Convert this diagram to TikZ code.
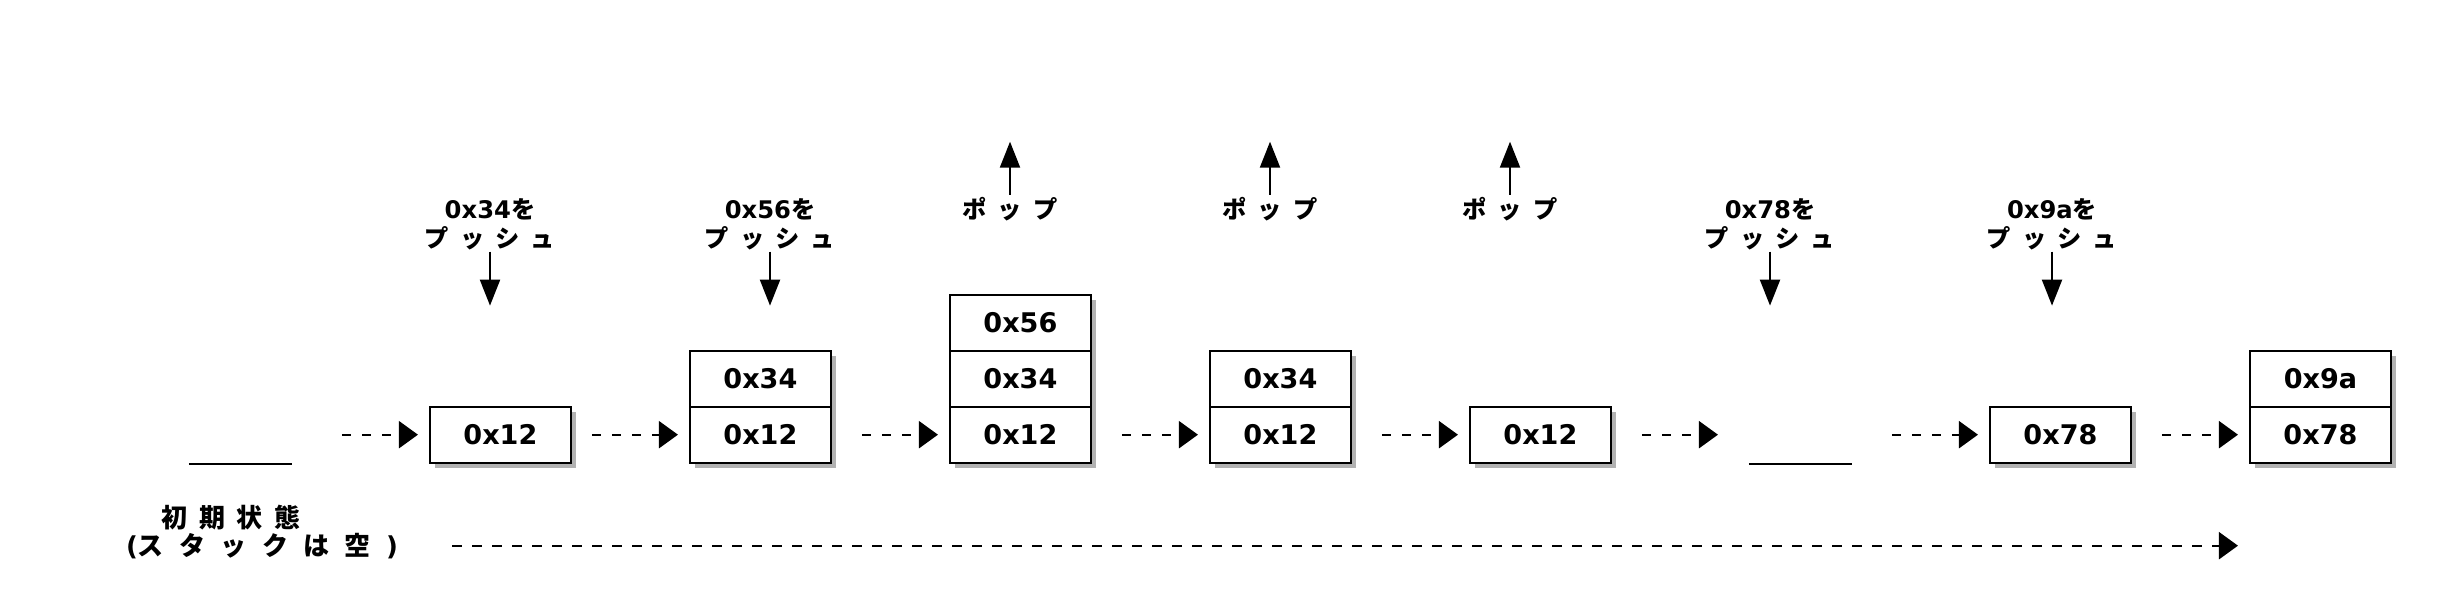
\documentclass[tikz,border=0pt]{standalone}
\usepackage{fontspec}
\setmainfont{DejaVu Sans}
\newfontfamily\jp{Noto Sans CJK JP}[WordSpace=2]
\newcommand{\gap}{\hspace{0.59em}}
\usetikzlibrary{arrows.meta,shadows}

\begin{document}
\begin{tikzpicture}[line width=0.6pt]
        %
        % `cell' is one value on a stack, `slot' is an empty stack.
        % `flow' is the dashed step arrow, `move' is a push or pop arrow.
        % `note' is used for the push and pop labels.
        \tikzstyle{cell} = [draw,fill=white,minimum width=1.408cm,minimum height=0.56cm,inner sep=0pt,font=\fontsize{7.7}{9}\selectfont\bfseries,drop shadow={shadow xshift=0.05cm,shadow yshift=-0.05cm,fill=black!60,opacity=0.5}]
        \tikzstyle{slot} = [minimum width=1.408cm,minimum height=0.56cm,inner sep=0pt]
        \tikzstyle{flow} = [dash pattern=on 0.095cm off 0.105cm,-{Triangle[length=0.19cm,width=0.27cm]},shorten <=0.3cm,shorten >=0.11cm]
        \tikzstyle{move} = [-{Triangle[length=0.26cm,width=0.2cm]}]
        \tikzstyle{note} = [align=center,inner sep=0.01cm,font=\fontsize{6.9}{8.05}\selectfont\bfseries]
        %
        \useasboundingbox (0,0) rectangle (24.4,6.16);
        \coordinate (sky) at (0,4.743);
        %
        % Column 0 (empty)
        \node[slot] (slot0) at (2.404,1.813) {};
        \draw ([xshift=0.2cm]slot0.south west) -- ([xshift=-0.2cm]slot0.south east);
        %
        % Column 1
        \node[cell] (cell11) at (5.004,1.813) {0x12};
        \draw[flow] (slot0.east) -- (cell11.west);
        \node[note,anchor=south] (push1) at (4.90,3.643) {0x34{\jp を}\\{\jp プ ッ シ ュ}};
        \draw[move,shorten >=1cm] (push1.south) -- (push1.south |- cell11.north);
        %
        % Column 2
        \node[cell] (cell22) at (7.604,2.373) {0x34};
        \node[cell] (cell21) at (7.604,1.813) {0x12};
        \draw[flow,shorten <=0.2cm] (cell11.east) -- (cell21.west);
        \node[note,anchor=south] (push2) at (7.70,3.643) {0x56{\jp を}\\{\jp プ ッ シ ュ}};
        \draw[move,shorten >=1cm] (push2.south) -- (push2.south |- cell21.north);
        %
        % Column 3
        \node[cell] (cell33) at (10.204,2.933) {0x56};
        \node[cell] (cell32) at (10.204,2.373) {0x34};
        \node[cell] (cell31) at (10.204,1.813) {0x12};
        \draw[flow] (cell21.east) -- (cell31.west);
        \node[note,anchor=north] (pop3) at (10.10,4.21) {\jp ポ ッ プ};
        \draw[move] (pop3.north) -- (pop3.north |- sky);
        %
        % Column 4
        \node[cell] (cell42) at (12.804,2.373) {0x34};
        \node[cell] (cell41) at (12.804,1.813) {0x12};
        \draw[flow] (cell31.east) -- (cell41.west);
        \node[note,anchor=north] (pop4) at (12.70,4.21) {\jp ポ ッ プ};
        \draw[move] (pop4.north) -- (pop4.north |- sky);
        %
        % Column 5
        \node[cell] (cell51) at (15.404,1.813) {0x12};
        \draw[flow] (cell41.east) -- (cell51.west);
        \node[note,anchor=north] (pop5) at (15.10,4.21) {\jp ポ ッ プ};
        \draw[move] (pop5.north) -- (pop5.north |- sky);
        %
        % Column 6 (empty again)
        \node[slot] (slot6) at (18.004,1.813) {};
        \draw ([xshift=0.2cm]slot6.south west) -- ([xshift=-0.2cm]slot6.south east);
        \draw[flow] (cell51.east) -- (slot6.west);
        \node[note,anchor=south] (push6) at (17.70,3.643) {0x78{\jp を}\\{\jp プ ッ シ ュ}};
        \draw[move,shorten >=1cm] (push6.south) -- (push6.south |- slot6.north);
        %
        % Column 7
        \node[cell] (cell71) at (20.604,1.813) {0x78};
        \draw[flow,shorten <=0.2cm] (slot6.east) -- (cell71.west);
        \node[note,anchor=south] (push7) at (20.52,3.643) {0x9a{\jp を}\\{\jp プ ッ シ ュ}};
        \draw[move,shorten >=1cm] (push7.south) -- (push7.south |- cell71.north);
        %
        % Column 8
        \node[cell] (cell82) at (23.204,2.373) {0x9a};
        \node[cell] (cell81) at (23.204,1.813) {0x78};
        \draw[flow] (cell71.east) -- (cell81.west);
        %
        % Initial state and long arrow
        \node[note,font=\fontsize{7.4}{9}\selectfont\bfseries] (init1) at (2.31,0.98) {\jp 初 期 状 態};
        \node[note,font=\fontsize{7.4}{9}\selectfont\bfseries] (init2) at (2.62,0.703) {({\jp ス\gap タ\gap ッ\gap ク\gap は\gap 空\gap})};
        \draw[flow,shorten <=0.52cm] (init2.east) -- (init2.east -| cell81.west);
        %
\end{tikzpicture}
\end{document}
